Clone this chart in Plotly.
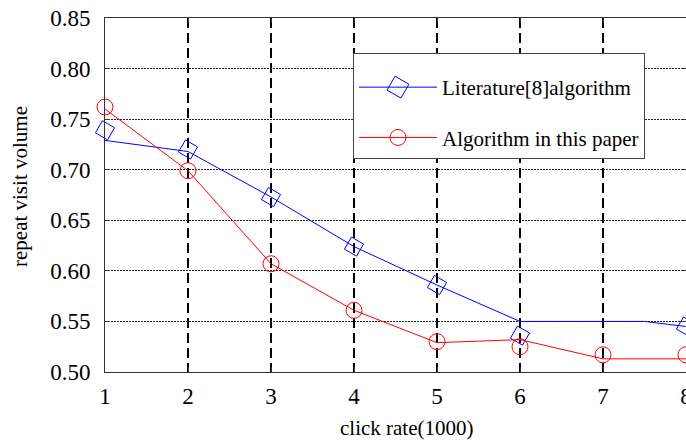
import plotly.graph_objects as go

# ---- data ----
x_ticks = [1, 2, 3, 4, 5, 6, 7, 8]
y_ticks = [0.50, 0.55, 0.60, 0.65, 0.70, 0.75, 0.80, 0.85]
y_tick_labels = ["0.50", "0.55", "0.60", "0.65", "0.70", "0.75", "0.80", "0.85"]

lit_name = "Literature[8]algorithm"
lit_line_x = [1, 2, 3, 4, 5, 6, 7, 7.5, 8]
lit_line_y = [0.729, 0.718, 0.673, 0.624, 0.586, 0.550, 0.550, 0.550, 0.545]
lit_marker_x = [1, 2, 3, 4, 5, 6, 8]
lit_marker_y = [0.739, 0.720, 0.673, 0.624, 0.586, 0.536, 0.545]

ours_name = "Algorithm in this paper"
ours_line_x = [1, 2, 3, 4, 5, 6, 7, 8]
ours_line_y = [0.760, 0.699, 0.607, 0.561, 0.529, 0.532, 0.513, 0.513]
ours_marker_x = [1, 2, 3, 4, 5, 6, 7, 8]
ours_marker_y = [0.762, 0.699, 0.607, 0.561, 0.530, 0.525, 0.517, 0.517]

x_title = "click rate(1000)"
y_title = "repeat visit volume"

FONT = "Liberation Serif"
BLUE = "#0000ff"
RED = "#ff0000"

fig = go.Figure()

# Literature[8] algorithm
fig.add_trace(go.Scatter(x=lit_line_x, y=lit_line_y, mode="lines",
                         line=dict(color=BLUE, width=1), showlegend=False,
                         legendgroup="lit", hoverinfo="skip"))
fig.add_trace(go.Scatter(x=lit_marker_x, y=lit_marker_y, mode="markers",
                         marker=dict(symbol="square-open", angle=30, size=14,
                                     color=BLUE, line=dict(color=BLUE, width=1)),
                         showlegend=False, legendgroup="lit", cliponaxis=False))
fig.add_trace(go.Scatter(x=[None], y=[None], mode="lines+markers", name=lit_name,
                         line=dict(color=BLUE, width=1),
                         marker=dict(symbol="square-open", angle=30, size=18,
                                     color=BLUE, line=dict(color=BLUE, width=1)),
                         legendgroup="lit"))

# Algorithm in this paper
fig.add_trace(go.Scatter(x=ours_line_x, y=ours_line_y, mode="lines",
                         line=dict(color=RED, width=1), showlegend=False,
                         legendgroup="ours", hoverinfo="skip"))
fig.add_trace(go.Scatter(x=ours_marker_x, y=ours_marker_y, mode="markers",
                         marker=dict(symbol="circle-open", size=16,
                                     color=RED, line=dict(color=RED, width=1)),
                         showlegend=False, legendgroup="ours", cliponaxis=False))
fig.add_trace(go.Scatter(x=[None], y=[None], mode="lines+markers", name=ours_name,
                         line=dict(color=RED, width=1),
                         marker=dict(symbol="circle-open", size=22,
                                     color=RED, line=dict(color=RED, width=1)),
                         legendgroup="ours"))

L, R, T, B = 105, 0, 18, 69
W, H = 686, 441
pw = W - L - R
ph = H - T - B

fig.update_layout(
    width=W, height=H,
    margin=dict(l=L, r=R, t=T, b=B, pad=0, autoexpand=False),
    paper_bgcolor="white", plot_bgcolor="white",
    font=dict(family=FONT, color="black", size=22),
    showlegend=True,
    legend=dict(x=(353 - L) / pw, y=(H - B - 53) / ph, xanchor="left", yanchor="top",
                bgcolor="white", bordercolor="#444444", borderwidth=1,
                font=dict(family=FONT, size=21, color="black"),
                title=dict(text=" ", font=dict(size=10)),
                tracegroupgap=20, itemwidth=78),
    xaxis=dict(range=[1, 8], tickvals=x_ticks, ticks="inside", ticklen=5,
               tickcolor="#333333", showline=True, linecolor="#333333", linewidth=1,
               mirror="ticks", showgrid=True, gridcolor="black", gridwidth=1.6,
               griddash="10px,5px", zeroline=False, automargin=False,
               tickfont=dict(family=FONT, size=23, color="black"),
               ticklabelstandoff=3, ticklabeloverflow="allow"),
    yaxis=dict(range=[0.50, 0.85], tickvals=y_ticks, ticktext=y_tick_labels,
               ticks="inside", ticklen=5, tickcolor="#333333",
               showline=True, linecolor="#333333", linewidth=1, mirror="ticks",
               showgrid=True, gridcolor="#222222", gridwidth=1, griddash="2px,1px",
               zeroline=False, automargin=False,
               tickfont=dict(family=FONT, size=23, color="black"),
               ticklabelstandoff=9),
    annotations=[
        dict(text=x_title, xref="paper", yref="paper",
             x=(407 - L) / pw, y=-(428 - (H - B)) / ph,
             xanchor="center", yanchor="middle", showarrow=False,
             font=dict(family=FONT, size=21)),
        dict(text=y_title, xref="paper", yref="paper",
             x=(20 - L) / pw, y=((H - B) - 187) / ph, textangle=-90,
             xanchor="center", yanchor="middle", showarrow=False,
             font=dict(family=FONT, size=21)),
    ],
)

fig.write_html("out.html",
               config={"displayModeBar": False},
               post_script="document.body.style.margin='0';"
                           "document.body.style.overflow='hidden';")
